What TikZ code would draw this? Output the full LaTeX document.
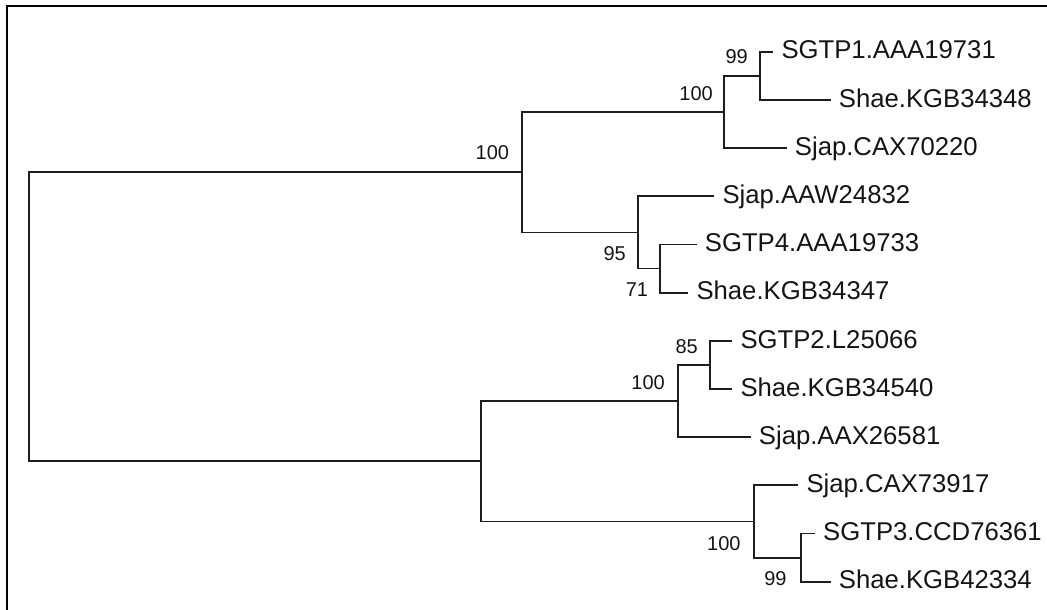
\documentclass[tikz,border=0pt]{standalone}
\usepackage{fontspec}
\setmainfont{Liberation Sans}
\usepackage{xcolor}
\usetikzlibrary{positioning}
\definecolor{treeline}{HTML}{1E1E1E}
\definecolor{labeltext}{HTML}{141414}
\tikzset{
  branch/.style={draw=treeline, line width=1.8pt},
  frame/.style={draw=black, line width=2.2pt},
  leaf/.style={anchor=west, inner xsep=8pt, inner ysep=0pt, text height=18.4pt,
               text depth=4pt, text=labeltext, font=\fontsize{25.7}{30}\selectfont},
  boot/.style={inner sep=0pt, text=labeltext, font=\fontsize{20}{24}\selectfont},
}

\begin{document}
\begin{tikzpicture}[x=1pt, y=-1pt]
  \useasboundingbox (0,0) rectangle (1047,610);
  \draw[frame] (6.7,615) |- (1052,5.7);

  % internal nodes
  \coordinate (R) at (29,316.7);
  \coordinate (A) at (522.3,172.2);
  \coordinate (B) at (724,112.0);
  \coordinate (C) at (760,75.8);
  \coordinate (D) at (638.3,232.4);
  \coordinate (E) at (660,268.5);
  \coordinate (F) at (481.3,461.2);
  \coordinate (G) at (677.7,401.0);
  \coordinate (H) at (710,364.9);
  \coordinate (I) at (754.3,521.5);
  \coordinate (J) at (800.7,557.6);

  % taxa
  \node (t1)  [leaf] at (773.3,51.7)  {SGTP1.AAA19731};
  \node (t2)  [leaf] at (830.7,99.9)  {Shae.KGB34348};
  \node (t3)  [leaf] at (786.7,148.1) {Sjap.CAX70220};
  \node (t4)  [leaf] at (714.3,196.2) {Sjap.AAW24832};
  \node (t5)  [leaf] at (696.7,244.4) {SGTP4.AAA19733};
  \node (t6)  [leaf] at (688.3,292.6) {Shae.KGB34347};
  \node (t7)  [leaf] at (732.3,340.8) {SGTP2.L25066};
  \node (t8)  [leaf] at (732.3,389.0) {Shae.KGB34540};
  \node (t9)  [leaf] at (750.7,437.1) {Sjap.AAX26581};
  \node (t10) [leaf] at (798.3,485.3) {Sjap.CAX73917};
  \node (t11) [leaf] at (815,533.5)   {SGTP3.CCD76361};
  \node (t12) [leaf] at (830.7,581.7) {Shae.KGB42334};

  % bootstrap values
  \node (bA) [boot, above left=12.3pt and 13pt of A]   {100};
  \node (bB) [boot, above left=11pt and 11pt of B]     {100};
  \node (bC) [boot, above left=11.5pt and 12pt of C]   {99};
  \node (bD) [boot, below left=14.3pt and 12.3pt of D] {95};
  \node (bE) [boot, below left=14pt and 11.7pt of E]   {71};
  \node (bG) [boot, above left=11.2pt and 12.7pt of G] {100};
  \node (bH) [boot, above left=11.3pt and 12pt of H]   {85};
  \node (bI) [boot, below left=15pt and 13.6pt of I]   {100};
  \node (bJ) [boot, below left=14.2pt and 14pt of J]   {99};

  \draw[branch] (R) |- (A);
  \draw[branch] (R) |- (F);
  \draw[branch] (A) |- (B);
  \draw[branch] (A) |- (D);
  \draw[branch] (B) |- (C);
  \draw[branch] (B) |- (t3);
  \draw[branch] (C) |- (t1);
  \draw[branch] (C) |- (t2);
  \draw[branch] (D) |- (t4);
  \draw[branch] (D) |- (E);
  \draw[branch] (E) |- (t5);
  \draw[branch] (E) |- (t6);
  \draw[branch] (F) |- (G);
  \draw[branch] (F) |- (I);
  \draw[branch] (G) |- (H);
  \draw[branch] (G) |- (t9);
  \draw[branch] (H) |- (t7);
  \draw[branch] (H) |- (t8);
  \draw[branch] (I) |- (t10);
  \draw[branch] (I) |- (J);
  \draw[branch] (J) |- (t11);
  \draw[branch] (J) |- (t12);
\end{tikzpicture}
\end{document}
